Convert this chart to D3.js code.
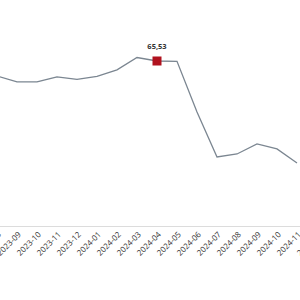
<!DOCTYPE html>
<html><head><meta charset="utf-8">
<script src="https://cdn.jsdelivr.net/npm/d3@7"></script>
<style>html,body{margin:0;padding:0;background:#fff;overflow:hidden}</style>
</head><body>
<svg id="c" width="300" height="300"></svg>
<script>
const months = ["2023-08","2023-09","2023-10","2023-11","2023-12","2024-01","2024-02","2024-03","2024-04","2024-05","2024-06","2024-07","2024-08","2024-09","2024-10","2024-11","2024-12"];
const values = [59.6,57.2,57.2,59.2,58.2,59.4,62.0,66.9,65.53,65.4,45.3,27.4,28.6,32.6,30.6,25.0,null];
const highlightMonth = "2024-04";
const highlightLabel = "65,53";

const svg = d3.select("#c");
const x = d3.scalePoint().domain(months).range([-3, 317]);
const y = d3.scaleLinear().domain([0, 65.53]).range([226, 61]);

const axis = svg.append("g").attr("transform","translate(0,226)")
  .call(d3.axisBottom(x).tickSize(0).tickSizeOuter(0));
axis.select(".domain").attr("stroke","#dcdcdc").attr("d","M-10,0.5H310");
axis.selectAll("text")
  .attr("font-family","'Open Sans', sans-serif").attr("font-size","8px").attr("fill","#333")
  .attr("text-anchor","end").attr("y",0).attr("dy",0)
  .attr("transform","translate(4,9) rotate(-45)");

const data = months.map((m,i)=>({m, v: values[i]}));
const line = d3.line().defined(d=>d.v!=null).x(d=>x(d.m)).y(d=>y(d.v));
svg.append("path").datum(data).attr("d",line)
  .attr("fill","none").attr("stroke","#7b8691").attr("stroke-width",1.3);

const h = data.find(d=>d.m===highlightMonth);
svg.append("rect").attr("x",x(h.m)-4.5).attr("y",y(h.v)-4.5).attr("width",9).attr("height",9)
  .attr("fill","#b0121e");
svg.append("text").attr("x",x(h.m)).attr("y",y(h.v)-12).attr("text-anchor","middle")
  .attr("font-family","'Open Sans', sans-serif").attr("font-size","7.5px").attr("font-weight","bold")
  .attr("fill","#333").text(highlightLabel);
</script>
</body></html>
